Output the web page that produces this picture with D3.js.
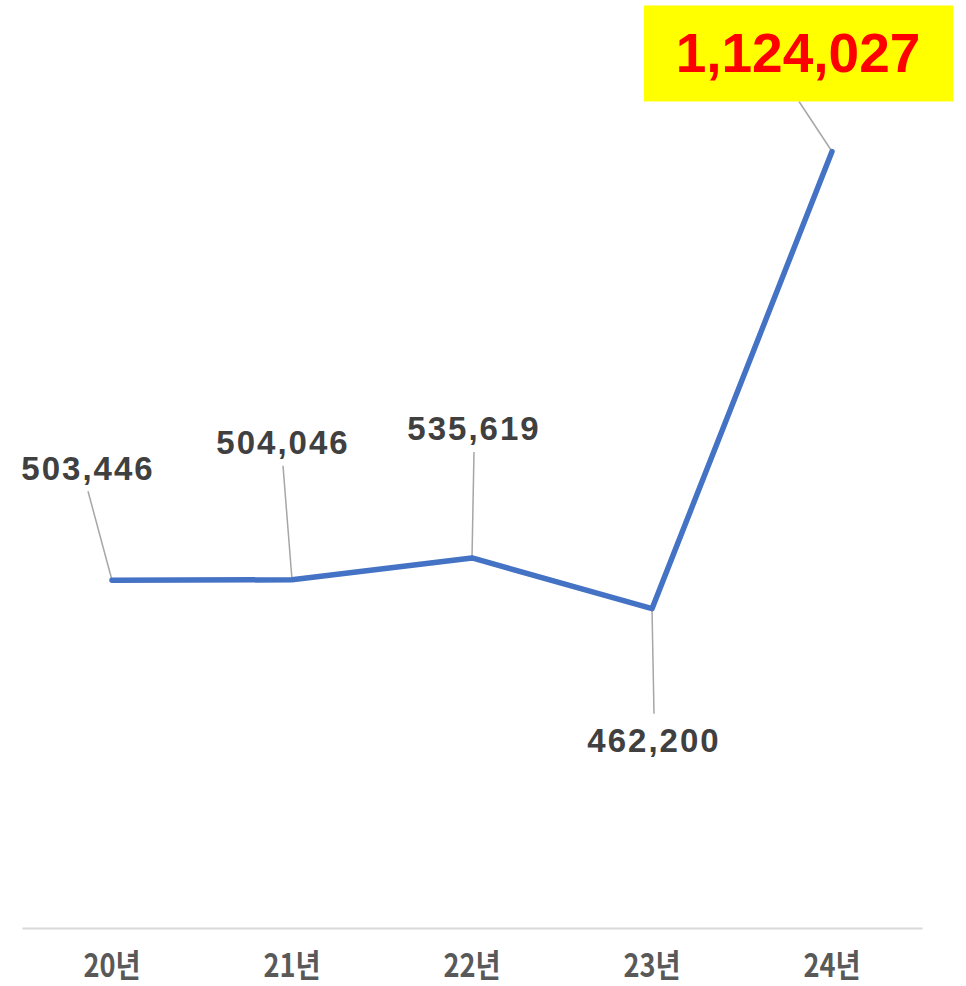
<!DOCTYPE html>
<html>
<head>
<meta charset="utf-8">
<script src="https://cdn.jsdelivr.net/npm/d3@7"></script>
<style>
  body { margin: 0; background: #fff; }
  svg { display: block; }
</style>
</head>
<body>
<div id="chart"></div>
<script>
// data
var years = ["20년", "21년", "22년", "23년", "24년"];
var values = [503446, 504046, 535619, 462200, 1124027];

// chart area
var svgWidth = 966;
var svgHeight = 986;

var svg = d3.select("#chart")
    .append("svg")
    .attr("width", svgWidth)
    .attr("height", svgHeight);

// scales
var xScale = d3.scaleBand()
    .domain(years)
    .range([22, 922])
    .padding(0);

var yScale = d3.scaleLinear()
    .domain([0, 1200000])
    .range([928, 99]);

var cx = function(i) { return xScale(years[i]) + xScale.bandwidth() / 2; };

// x axis
var bottomAxis = d3.axisBottom(xScale).tickSize(0).tickPadding(0);
var axisG = svg.append("g")
    .attr("transform", "translate(0, 928)")
    .call(bottomAxis);
axisG.select(".domain")
    .attr("stroke", "#d9d9d9")
    .attr("stroke-width", 2);
axisG.selectAll(".tick text")
    .attr("fill", "#595959")
    .attr("font-family", "'Noto Sans CJK KR', sans-serif")
    .attr("font-weight", "bold")
    .attr("font-size", 32)
    .attr("dy", 0)
    .attr("y", 0)
    .attr("dominant-baseline", "central")
    .attr("transform", "translate(0, 36) scale(0.85, 1)");

// label placement (relative to each point)
var labelShift = [[-24, -112], [-9, -137], [2, -129], [2, 132], [-34, -98]];

// leader lines
svg.selectAll(".leader")
    .data(values)
    .enter()
    .append("line")
    .attr("class", "leader")
    .attr("x1", (d, i) => cx(i))
    .attr("y1", (d, i) => yScale(d))
    .attr("x2", (d, i) => cx(i) + labelShift[i][0] + (i === 4 ? 1 : 0))
    .attr("y2", function(d, i) {
        var ly = yScale(d) + labelShift[i][1];
        if (i === 4) return ly + 48;
        return labelShift[i][1] < 0 ? ly + 23 : ly - 27;
    })
    .attr("stroke", "#a6a6a6")
    .attr("stroke-width", 1.5);

// line
var line = d3.line()
    .x((d, i) => cx(i))
    .y(d => yScale(d));

svg.append("path")
    .datum(values)
    .attr("d", line)
    .attr("fill", "none")
    .attr("stroke", "#4472c4")
    .attr("stroke-width", 5.5)
    .attr("stroke-linejoin", "round")
    .attr("stroke-linecap", "round");

// highlight box for last value
var last = values.length - 1;
var bx = cx(last) + labelShift[last][0];
var by = yScale(values[last]) + labelShift[last][1];
svg.append("rect")
    .attr("x", bx - 154)
    .attr("y", by - 48)
    .attr("width", 309)
    .attr("height", 96)
    .attr("fill", "#ffff00");

// value labels
svg.selectAll(".vlabel")
    .data(values)
    .enter()
    .append("text")
    .attr("class", "vlabel")
    .attr("x", (d, i) => cx(i) + labelShift[i][0])
    .attr("y", (d, i) => yScale(d) + labelShift[i][1])
    .attr("text-anchor", "middle")
    .attr("dominant-baseline", "central")
    .attr("font-family", "'Liberation Sans', Arial, sans-serif")
    .attr("font-weight", "bold")
    .attr("font-size", (d, i) => i === last ? 55 : 33)
    .attr("letter-spacing", (d, i) => i === last ? 0 : 2)
    .attr("fill", (d, i) => i === last ? "#ff0000" : "#404040")
    .text(d => d3.format(",")(d));
</script>
</body>
</html>
